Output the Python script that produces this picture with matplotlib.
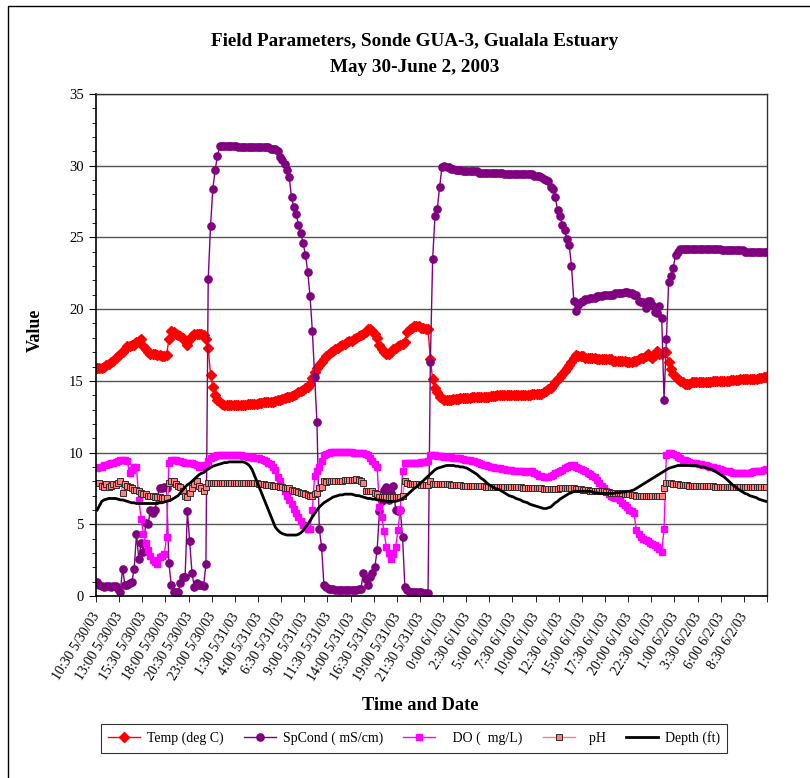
import matplotlib
matplotlib.use("Agg")
import matplotlib.pyplot as plt
from matplotlib.lines import Line2D

plt.rcParams["font.family"] = ["Liberation Serif", "DejaVu Serif"]

# readings every 15 min, starting 10:30 5/30/03
tick_labels = [
    "10:30 5/30/03", "13:00 5/30/03", "15:30 5/30/03", "18:00 5/30/03",
    "20:30 5/30/03", "23:00 5/30/03", "1:30 5/31/03", "4:00 5/31/03",
    "6:30 5/31/03", "9:00 5/31/03", "11:30 5/31/03", "14:00 5/31/03",
    "16:30 5/31/03", "19:00 5/31/03", "21:30 5/31/03", "0:00 6/1/03",
    "2:30 6/1/03", "5:00 6/1/03", "7:30 6/1/03", "10:00 6/1/03",
    "12:30 6/1/03", "15:00 6/1/03", "17:30 6/1/03", "20:00 6/1/03",
    "22:30 6/1/03", "1:00 6/2/03", "3:30 6/2/03", "6:00 6/2/03",
    "8:30 6/2/03",
]

temp = [
    15.9, 15.9, 15.9, 16.0, 16.1, 16.2, 16.3, 16.4, 16.6, 16.7,
    16.9, 17.0, 17.2, 17.4, 17.4, 17.5, 17.5, 17.7, 17.8, 17.9,
    17.4, 17.2, 17.0, 16.9, 16.9, 16.9, 16.8, 16.8, 16.7, 16.7,
    16.8, 17.9, 18.5, 18.4, 18.3, 18.2, 18.1, 18.0, 17.8, 17.5,
    17.9, 18.1, 18.3, 18.3, 18.3, 18.3, 18.2, 17.9, 17.3, 15.4,
    14.6, 14.0, 13.7, 13.5, 13.4, 13.3, 13.3, 13.3, 13.3, 13.3,
    13.35, 13.35, 13.35, 13.35, 13.35, 13.4, 13.4, 13.4, 13.4, 13.4,
    13.45, 13.45, 13.5, 13.5, 13.5, 13.55, 13.55, 13.6, 13.65, 13.7,
    13.75, 13.8, 13.85, 13.9, 13.95, 14.0, 14.1, 14.2, 14.3, 14.35,
    14.5, 14.6, 14.8, 15.2, 15.6, 15.9, 16.1, 16.3, 16.5, 16.7,
    16.9, 17.0, 17.1, 17.2, 17.3, 17.4, 17.5, 17.6, 17.7, 17.8,
    17.8, 17.9, 18.0, 18.1, 18.2, 18.3, 18.4, 18.6, 18.6, 18.5,
    18.3, 18.0, 17.5, 17.2, 17.0, 16.9, 16.9, 17.0, 17.2, 17.3,
    17.4, 17.5, 17.6, 17.7, 18.4, 18.6, 18.7, 18.8, 18.8, 18.8,
    18.7, 18.7, 18.6, 18.6, 16.5, 15.1, 14.5, 14.2, 13.9, 13.8,
    13.7, 13.7, 13.7, 13.7, 13.75, 13.75, 13.75, 13.8, 13.8, 13.8,
    13.8, 13.8, 13.85, 13.85, 13.85, 13.9, 13.9, 13.9, 13.9, 13.9,
    13.95, 13.95, 13.95, 14.0, 14.0, 14.0, 14.0, 14.0, 14.0, 14.0,
    14.0, 14.0, 14.0, 14.0, 14.0, 14.0, 14.0, 14.0, 14.05, 14.05,
    14.05, 14.1, 14.1, 14.2, 14.3, 14.4, 14.5, 14.7, 14.9, 15.1,
    15.3, 15.5, 15.7, 15.9, 16.1, 16.3, 16.6, 16.8, 16.7, 16.7,
    16.7, 16.6, 16.6, 16.6, 16.6, 16.6, 16.5, 16.5, 16.5, 16.5,
    16.5, 16.5, 16.5, 16.4, 16.4, 16.4, 16.4, 16.4, 16.4, 16.3,
    16.3, 16.3, 16.4, 16.4, 16.5, 16.6, 16.6, 16.7, 16.9, 16.7,
    16.6, 16.8, 17.1, 16.9, 16.9, 17.0, 17.0, 16.3, 15.8, 15.5,
    15.3, 15.1, 15.0, 14.9, 14.8, 14.8, 14.8, 14.9, 14.9, 14.9,
    14.9, 14.9, 14.9, 14.95, 14.95, 14.95, 15.0, 15.0, 15.0, 15.0,
    15.0, 15.0, 15.0, 15.0, 15.05, 15.05, 15.05, 15.05, 15.1, 15.1,
    15.1, 15.1, 15.1, 15.1, 15.1, 15.15, 15.2, 15.2, 15.25, 15.25,
]

spcond = [
    1.0, 0.8, 0.7, 0.6, 0.7, 0.7, 0.6, 0.7, 0.7, 0.5,
    0.3, 1.9, 0.8, 0.8, 0.9, 1.0, 1.9, 4.3, 2.6, 3.7,
    3.1, 5.1, 5.0, 6.0, 5.8, 6.0, 6.9, 7.5, 7.5, 7.6,
    7.5, 2.3, 0.8, 0.3, 0.3, 0.3, 0.9, 1.3, 1.3, 5.9,
    3.8, 1.6, 0.6, 0.9, 0.8, 0.8, 0.7, 2.2, 22.1, 25.8,
    28.4, 29.7, 30.7, 31.4, 31.4, 31.4, 31.4, 31.4, 31.4, 31.4,
    31.4, 31.3, 31.3, 31.3, 31.3, 31.3, 31.3, 31.3, 31.3, 31.3,
    31.3, 31.3, 31.3, 31.3, 31.3, 31.2, 31.2, 31.2, 31.0, 30.6,
    30.4, 30.1, 29.7, 29.2, 27.8, 27.1, 26.6, 25.9, 25.3, 24.6,
    23.8, 22.6, 20.9, 18.5, 15.3, 12.1, 4.7, 3.4, 0.8, 0.6,
    0.5, 0.5, 0.5, 0.4, 0.4, 0.4, 0.4, 0.4, 0.4, 0.4,
    0.4, 0.4, 0.4, 0.5, 0.5, 1.6, 1.2, 0.8, 1.3, 1.6,
    2.0, 3.2, 5.9, 6.6, 7.4, 7.6, 6.7, 7.2, 7.7, 6.0,
    5.9, 6.0, 4.1, 0.6, 0.4, 0.3, 0.3, 0.3, 0.3, 0.3,
    0.3, 0.2, 0.2, 0.2, 16.3, 23.5, 26.5, 27.0, 28.5, 29.9,
    30.0, 29.9, 29.9, 29.8, 29.8, 29.7, 29.7, 29.7, 29.6, 29.6,
    29.6, 29.6, 29.6, 29.6, 29.6, 29.5, 29.5, 29.5, 29.5, 29.5,
    29.5, 29.5, 29.5, 29.5, 29.5, 29.5, 29.4, 29.4, 29.4, 29.4,
    29.4, 29.4, 29.4, 29.4, 29.4, 29.4, 29.4, 29.4, 29.4, 29.3,
    29.3, 29.3, 29.2, 29.1, 29.0, 28.9, 28.5, 28.4, 27.8, 26.9,
    26.5, 25.9, 25.5, 24.9, 24.5, 23.0, 20.6, 19.9, 20.3, 20.5,
    20.6, 20.7, 20.7, 20.8, 20.8, 20.8, 20.9, 20.9, 20.9, 21.0,
    21.0, 21.0, 21.0, 21.0, 21.1, 21.1, 21.1, 21.1, 21.2, 21.2,
    21.1, 21.1, 21.0, 21.0, 20.6, 20.5, 20.5, 20.1, 20.6, 20.6,
    20.3, 19.8, 19.7, 20.2, 19.4, 13.7, 17.9, 21.9, 22.3, 22.9,
    23.8, 24.0, 24.2, 24.2, 24.2, 24.2, 24.2, 24.2, 24.2, 24.2,
    24.2, 24.2, 24.2, 24.2, 24.2, 24.2, 24.2, 24.2, 24.2, 24.2,
    24.1, 24.1, 24.1, 24.1, 24.1, 24.1, 24.1, 24.1, 24.1, 24.1,
    24.0, 24.0, 24.0, 24.0, 24.0, 24.0, 24.0, 24.0, 24.0, 24.0,
]

do = [
    8.9, 9.0, 9.0, 9.1, 9.1, 9.2, 9.25, 9.3, 9.35, 9.4,
    9.45, 9.5, 9.5, 9.4, 8.55, 8.8, 9.0, 9.0, 6.7, 5.4,
    4.3, 3.7, 3.2, 2.8, 2.5, 2.4, 2.2, 2.7, 2.8, 2.9,
    4.1, 9.3, 9.5, 9.5, 9.45, 9.4, 9.4, 9.35, 9.3, 9.3,
    9.25, 9.25, 9.2, 9.1, 9.0, 9.0, 9.1, 9.1, 9.4, 9.6,
    9.7, 9.75, 9.8, 9.8, 9.8, 9.8, 9.8, 9.8, 9.8, 9.8,
    9.8, 9.8, 9.8, 9.75, 9.75, 9.7, 9.7, 9.7, 9.65, 9.6,
    9.6, 9.55, 9.5, 9.4, 9.3, 9.2, 9.0, 8.8, 8.3, 8.0,
    7.6, 7.3, 7.0, 6.7, 6.4, 6.1, 5.8, 5.5, 5.2, 4.95,
    4.8, 4.7, 4.7, 6.0, 8.4, 8.7, 9.0, 9.4, 9.8, 9.9,
    10.0, 10.05, 10.05, 10.05, 10.05, 10.05, 10.05, 10.05, 10.05, 10.05,
    10.05, 10.0, 10.0, 10.0, 9.95, 9.95, 9.9, 9.8, 9.6, 9.4,
    9.2, 9.0, 6.2, 5.5, 4.5, 3.4, 3.0, 2.6, 2.9, 3.4,
    4.6, 6.0, 8.7, 9.25, 9.3, 9.3, 9.3, 9.3, 9.3, 9.3,
    9.35, 9.35, 9.35, 9.4, 9.8, 9.8, 9.8, 9.75, 9.75, 9.75,
    9.7, 9.7, 9.7, 9.7, 9.65, 9.65, 9.6, 9.6, 9.55, 9.5,
    9.5, 9.45, 9.4, 9.4, 9.35, 9.3, 9.2, 9.15, 9.1, 9.05,
    9.0, 9.0, 8.95, 8.9, 8.9, 8.85, 8.85, 8.8, 8.8, 8.8,
    8.75, 8.75, 8.7, 8.7, 8.7, 8.65, 8.65, 8.7, 8.7, 8.6,
    8.5, 8.4, 8.35, 8.3, 8.3, 8.3, 8.35, 8.45, 8.55, 8.65,
    8.7, 8.8, 8.9, 9.0, 9.05, 9.1, 9.1, 9.0, 8.95, 8.85,
    8.8, 8.7, 8.6, 8.5, 8.4, 8.3, 8.1, 7.9, 7.7, 7.5,
    7.3, 7.1, 7.0, 6.9, 6.85, 6.8, 6.7, 6.5, 6.35, 6.2,
    6.0, 5.9, 5.8, 4.6, 4.3, 4.1, 4.0, 3.9, 3.8, 3.7,
    3.6, 3.55, 3.4, 3.3, 3.1, 4.65, 9.8, 9.95, 9.95, 9.9,
    9.8, 9.7, 9.6, 9.5, 9.45, 9.4, 9.35, 9.3, 9.3, 9.25,
    9.2, 9.2, 9.15, 9.1, 9.05, 9.0, 9.0, 8.95, 8.9, 8.85,
    8.8, 8.75, 8.7, 8.7, 8.65, 8.6, 8.6, 8.55, 8.55, 8.55,
    8.55, 8.6, 8.6, 8.65, 8.7, 8.7, 8.75, 8.75, 8.8, 8.85,
]

ph = [
    7.85, 7.9, 7.7, 7.6, 7.8, 7.6, 7.7, 7.8, 7.75, 7.9,
    8.0, 7.2, 7.8, 7.7, 7.6, 7.5, 7.4, 7.4, 7.3, 7.2,
    7.1, 7.1, 7.0, 7.0, 7.0, 6.9, 6.9, 6.9, 6.85, 6.8,
    6.8, 7.9, 8.0, 8.0, 7.8, 7.7, 7.6, 7.3, 7.0, 6.9,
    7.2, 7.5, 7.8, 8.0, 7.7, 7.5, 7.3, 7.6, 7.85, 7.85,
    7.85, 7.85, 7.85, 7.85, 7.85, 7.85, 7.85, 7.85, 7.85, 7.85,
    7.85, 7.85, 7.85, 7.85, 7.85, 7.85, 7.85, 7.85, 7.85, 7.85,
    7.8, 7.8, 7.8, 7.75, 7.75, 7.75, 7.7, 7.7, 7.65, 7.6,
    7.6, 7.55, 7.5, 7.5, 7.4, 7.35, 7.3, 7.25, 7.2, 7.15,
    7.1, 7.05, 7.0, 7.0, 7.1, 7.2, 7.5, 7.6, 8.0, 7.95,
    8.0, 8.0, 8.0, 8.0, 8.05, 8.05, 8.05, 8.1, 8.1, 8.1,
    8.1, 8.1, 8.15, 8.1, 8.0, 7.85, 7.3, 7.3, 7.3, 7.3,
    7.2, 7.1, 6.9, 6.9, 6.9, 6.9, 6.9, 6.9, 6.9, 6.9,
    6.9, 6.9, 7.0, 8.0, 7.85, 7.8, 7.8, 7.8, 7.8, 7.8,
    7.75, 7.75, 7.75, 7.75, 8.0, 7.8, 7.8, 7.8, 7.8, 7.8,
    7.8, 7.8, 7.8, 7.75, 7.75, 7.75, 7.75, 7.75, 7.7, 7.7,
    7.7, 7.7, 7.7, 7.7, 7.65, 7.65, 7.65, 7.65, 7.6, 7.6,
    7.6, 7.6, 7.6, 7.6, 7.6, 7.6, 7.6, 7.6, 7.6, 7.6,
    7.6, 7.6, 7.6, 7.6, 7.55, 7.55, 7.55, 7.55, 7.55, 7.5,
    7.5, 7.5, 7.5, 7.45, 7.45, 7.45, 7.45, 7.45, 7.45, 7.45,
    7.5, 7.5, 7.5, 7.5, 7.5, 7.5, 7.5, 7.45, 7.45, 7.45,
    7.4, 7.4, 7.4, 7.35, 7.35, 7.35, 7.3, 7.3, 7.3, 7.3,
    7.25, 7.25, 7.2, 7.2, 7.2, 7.15, 7.15, 7.15, 7.1, 7.1,
    7.1, 7.05, 7.05, 7.0, 7.0, 7.0, 7.0, 7.0, 6.97, 6.97,
    6.97, 6.97, 6.97, 6.97, 6.97, 7.5, 7.85, 7.9, 7.85, 7.8,
    7.8, 7.8, 7.75, 7.75, 7.75, 7.75, 7.7, 7.7, 7.7, 7.7,
    7.7, 7.7, 7.65, 7.65, 7.65, 7.65, 7.65, 7.6, 7.6, 7.6,
    7.6, 7.6, 7.6, 7.6, 7.6, 7.6, 7.6, 7.6, 7.6, 7.6,
    7.6, 7.6, 7.6, 7.6, 7.6, 7.6, 7.6, 7.6, 7.6, 7.6,
]

depth = [
    6.0, 6.3, 6.6, 6.7, 6.75, 6.8, 6.8, 6.8, 6.8, 6.75,
    6.7, 6.7, 6.65, 6.6, 6.55, 6.5, 6.5, 6.45, 6.45, 6.45,
    6.45, 6.45, 6.45, 6.45, 6.45, 6.45, 6.45, 6.5, 6.5, 6.55,
    6.6, 6.65, 6.7, 6.8, 6.9, 7.0, 7.2, 7.4, 7.6, 7.75,
    7.85, 8.0, 8.15, 8.3, 8.45, 8.55, 8.6, 8.75, 8.85, 8.95,
    9.05, 9.1, 9.15, 9.2, 9.25, 9.3, 9.3, 9.35, 9.35, 9.35,
    9.35, 9.35, 9.35, 9.35, 9.3, 9.2, 9.05, 8.8, 8.4, 8.0,
    7.6, 7.2, 6.8, 6.4, 6.0, 5.6, 5.2, 4.8, 4.6, 4.45,
    4.35, 4.3, 4.25, 4.25, 4.25, 4.25, 4.25, 4.3, 4.4, 4.55,
    4.8, 5.0, 5.25, 5.5, 5.75, 6.0, 6.2, 6.35, 6.5, 6.6,
    6.7, 6.8, 6.9, 6.95, 7.0, 7.05, 7.05, 7.1, 7.1, 7.1,
    7.1, 7.05, 7.0, 7.0, 6.95, 6.9, 6.85, 6.8, 6.8, 6.75,
    6.75, 6.7, 6.7, 6.65, 6.65, 6.6, 6.6, 6.6, 6.6, 6.6,
    6.65, 6.7, 6.8, 6.9, 7.05, 7.2, 7.35, 7.5, 7.6, 7.75,
    7.9, 8.05, 8.2, 8.35, 8.5, 8.65, 8.8, 8.9, 8.95, 9.0,
    9.05, 9.1, 9.1, 9.1, 9.1, 9.05, 9.05, 9.0, 9.0, 8.95,
    8.9, 8.8, 8.7, 8.6, 8.5, 8.35, 8.2, 8.1, 7.95, 7.8,
    7.7, 7.6, 7.5, 7.45, 7.4, 7.3, 7.2, 7.1, 7.0, 6.95,
    6.9, 6.8, 6.75, 6.7, 6.6, 6.55, 6.5, 6.4, 6.35, 6.3,
    6.25, 6.2, 6.15, 6.1, 6.1, 6.15, 6.2, 6.35, 6.5, 6.6,
    6.75, 6.85, 6.95, 7.05, 7.15, 7.2, 7.3, 7.3, 7.3, 7.3,
    7.3, 7.3, 7.3, 7.3, 7.25, 7.2, 7.2, 7.15, 7.15, 7.15,
    7.15, 7.15, 7.15, 7.15, 7.2, 7.2, 7.2, 7.25, 7.25, 7.3,
    7.3, 7.35, 7.4, 7.5, 7.6, 7.7, 7.8, 7.9, 8.0, 8.1,
    8.2, 8.3, 8.4, 8.5, 8.6, 8.7, 8.8, 8.9, 8.95, 9.0,
    9.05, 9.1, 9.1, 9.1, 9.1, 9.1, 9.1, 9.1, 9.1, 9.1,
    9.05, 9.0, 9.0, 8.95, 8.9, 8.85, 8.8, 8.7, 8.6, 8.5,
    8.4, 8.3, 8.15, 8.0, 7.85, 7.7, 7.6, 7.45, 7.35, 7.25,
    7.15, 7.1, 7.0, 6.95, 6.9, 6.85, 6.75, 6.7, 6.65, 6.6,
]

n = len(temp)
assert all(len(s) == n for s in (spcond, do, ph, depth)), [len(s) for s in (temp, spcond, do, ph, depth)]
x = list(range(n))

W, H = 810, 778
fig = plt.figure(figsize=(W / 100, H / 100), dpi=100)
# chart-area border: only left and top edges fall inside the picture
fig.add_artist(Line2D([8 / W, 8 / W, 1.0], [0.0, 1 - 6 / H, 1 - 6 / H],
                      transform=fig.transFigure, color="black", lw=1.0))

ax = fig.add_axes([96 / W, 1 - 596 / H, 671 / W, 502 / H])

ax.plot(x, temp, color="#FF0000", lw=1, marker="D", markersize=4.8, label="Temp (deg C)")
ax.plot(x, spcond, color="#800080", lw=1, marker="o", markersize=5.2, label="SpCond ( mS/cm)")
ax.plot(x, do, color="#FF00FF", lw=1, marker="s", markersize=4.8, label="   DO (  mg/L)")
ax.plot(x, ph, color="#FF8080", lw=1, marker="s", markersize=4.8, markeredgecolor="#3a2a2a",
        markeredgewidth=0.7, markerfacecolor="#FF8080", label="  pH")
ax.plot(x, depth, color="black", lw=2, label="Depth (ft)")

ax.set_xlim(-0.5, n - 0.5)
ax.set_ylim(0, 35)
ax.set_yticks(range(0, 36, 5))
ax.set_yticks(range(0, 36), minor=True)
ax.yaxis.grid(True, which="major", color="#555555", lw=1)
ax.set_axisbelow(True)
ax.tick_params(axis="y", which="major", direction="out", length=5, labelsize=10.5, pad=4)
ax.tick_params(axis="y", which="minor", direction="out", length=3)

# ticks on category boundaries every 10 points, labels on categories
ax.set_xticks([k - 0.5 for k in range(0, n + 1, 10)], minor=True)
ax.set_xticks(list(range(0, 10 * len(tick_labels), 10)))
ax.set_xticklabels(tick_labels, rotation=58, ha="right", va="center",
                   rotation_mode="anchor", fontsize=10)
ax.tick_params(axis="x", which="major", length=0, pad=13)
ax.tick_params(axis="x", which="minor", direction="out", length=4)

for side in ("left", "bottom"):
    ax.spines[side].set_linewidth(1.2)
for side in ("top", "right"):
    ax.spines[side].set_linewidth(1.0)
    ax.spines[side].set_color("#333333")

fig.text(415 / W, 1 - 42 / H, "Field Parameters, Sonde GUA-3, Gualala Estuary",
         ha="center", va="center", fontsize=13.8, fontweight="bold")
fig.text(415 / W, 1 - 67 / H, "May 30-June 2, 2003",
         ha="center", va="center", fontsize=13.8, fontweight="bold")
fig.text(35 / W, 1 - 330 / H, "Value", rotation=90, ha="center", va="center",
         fontsize=13, fontweight="bold")
fig.text(420 / W, 1 - 705 / H, "Time and Date", ha="center", va="center",
         fontsize=13.2, fontweight="bold")

leg = fig.legend(loc="center", bbox_to_anchor=(414 / W, 1 - 738.5 / H), ncol=5,
                 fontsize=10, frameon=True, fancybox=False, edgecolor="black",
                 handlelength=2.3, handletextpad=0.5, columnspacing=1.45,
                 borderpad=0.55, borderaxespad=0)
leg.get_frame().set_linewidth(0.8)

fig.savefig("out.png", dpi=100)
